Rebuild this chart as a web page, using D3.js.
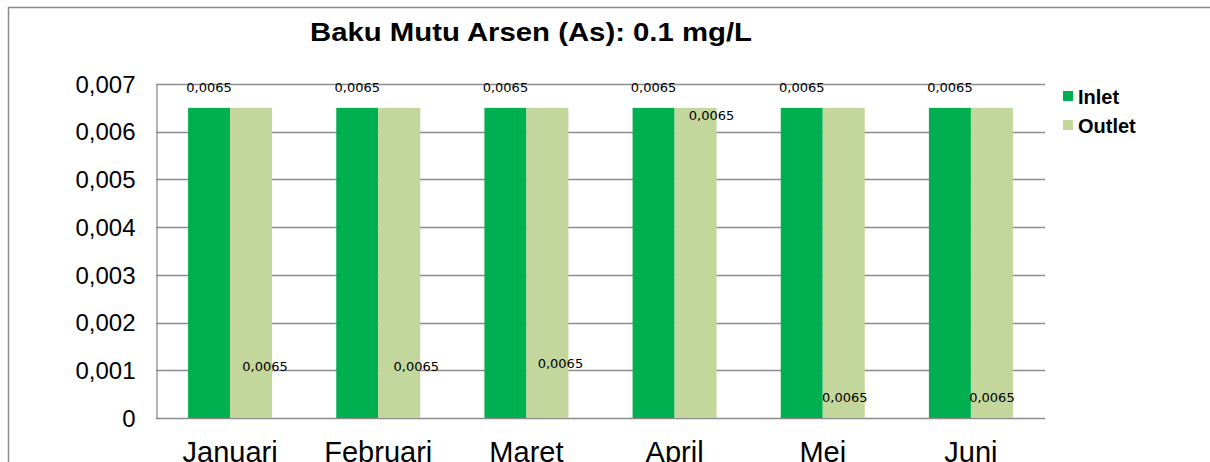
<!DOCTYPE html>
<html>
<head>
<meta charset="utf-8">
<script src="https://cdn.jsdelivr.net/npm/d3@7"></script>
<style>
  body { margin: 0; background: #fff; }
  svg { display: block; }
  .grid line { stroke: #8c8c8c; stroke-width: 1.3; }
  .val { font-family: 'DejaVu Sans', sans-serif; font-size: 13px; fill: #000; }
</style>
</head>
<body>
<svg width="1210" height="462"></svg>
<script>
'use strict';

var months = ['Januari', 'Februari', 'Maret', 'April', 'Mei', 'Juni'];
var inlet = [0.0065, 0.0065, 0.0065, 0.0065, 0.0065, 0.0065];
var outlet = [0.0065, 0.0065, 0.0065, 0.0065, 0.0065, 0.0065];
var seriesNames = ['Inlet', 'Outlet'];
var yTicks = [0, 0.001, 0.002, 0.003, 0.004, 0.005, 0.006, 0.007];
var title = 'Baku Mutu Arsen (As): 0.1 mg/L';

// where the outlet labels were dragged to in the original (value units / px shift)
var outletLabelAt = [0.00109, 0.00109, 0.00115, 0.00635, 0.00044, 0.00044];
var outletLabelShift = [14, 17, 13, 16, 1, 0];

var colors = { Inlet: '#00b050', Outlet: '#c3d69b' };

var margin = { left: 156, top: 84, right: 1045, bottom: 418 };

var svg = d3.select('svg');

// outer frame (left + top only visible)
svg.append('path')
    .attr('d', 'M8.5,462 L8.5,7.5 L1210,7.5')
    .attr('fill', 'none')
    .attr('stroke', '#8c8c8c')
    .attr('stroke-width', 1.5);

var x = d3.scaleBand()
    .domain(months)
    .range([margin.left, margin.right]);

var y = d3.scaleLinear()
    .domain([0, 0.007])
    .range([margin.bottom, margin.top]);

var fmt = function(v) { return String(v).replace('.', ','); };

// grid lines
svg.append('g')
    .attr('class', 'grid')
    .selectAll('line')
    .data(yTicks)
    .enter()
    .append('line')
    .attr('x1', margin.left)
    .attr('x2', margin.right)
    .attr('y1', function(d) { return Math.round(y(d)) + 0.5; })
    .attr('y2', function(d) { return Math.round(y(d)) + 0.5; });

// y axis
var axisY = d3.axisLeft(y)
    .tickValues(yTicks)
    .tickSize(0)
    .tickPadding(21)
    .tickFormat(function(d) { return d === 0 ? '0' : fmt(d3.format('.3f')(d)); });

var gy = svg.append('g')
    .attr('transform', 'translate(' + (margin.left + 0.5) + ',0.5)')
    .call(axisY);
gy.select('.domain').attr('stroke', '#8c8c8c').attr('stroke-width', 1.3);
gy.selectAll('text')
    .attr('font-family', 'Liberation Sans, Arial, sans-serif')
    .attr('font-size', 24)
    .attr('fill', '#000');

// bars
var barW = 42;
var groups = svg.append('g').selectAll('g')
    .data(months)
    .enter()
    .append('g')
    .attr('transform', function(d) { return 'translate(' + (x(d) + x.bandwidth() / 2) + ',0)'; });

groups.append('rect')
    .attr('x', -barW)
    .attr('width', barW)
    .attr('y', function(d, i) { return y(inlet[i]); })
    .attr('height', function(d, i) { return y(0) - y(inlet[i]); })
    .attr('fill', colors.Inlet);

groups.append('rect')
    .attr('x', 0)
    .attr('width', barW)
    .attr('y', function(d, i) { return y(outlet[i]); })
    .attr('height', function(d, i) { return y(0) - y(outlet[i]); })
    .attr('fill', colors.Outlet);

// value labels
groups.append('text')
    .attr('class', 'val')
    .attr('x', -barW / 2)
    .attr('y', y(0.0065) - 16)
    .attr('text-anchor', 'middle')
    .text(function(d, i) { return fmt(inlet[i]); });

groups.append('text')
    .attr('class', 'val')
    .attr('x', function(d, i) { return barW / 2 + outletLabelShift[i]; })
    .attr('y', function(d, i) { return y(outletLabelAt[i]) + 5; })
    .attr('text-anchor', 'middle')
    .text(function(d, i) { return fmt(outlet[i]); });

// x labels
svg.append('g').selectAll('text')
    .data(months)
    .enter()
    .append('text')
    .attr('x', function(d) { return x(d) + x.bandwidth() / 2; })
    .attr('y', 462)
    .attr('text-anchor', 'middle')
    .attr('font-family', 'Liberation Sans, Arial, sans-serif')
    .attr('font-size', 29)
    .text(function(d) { return d; });

// title
svg.append('text')
    .attr('x', 531)
    .attr('y', 41)
    .attr('text-anchor', 'middle')
    .attr('font-family', 'Liberation Sans, Arial, sans-serif')
    .attr('font-size', 25)
    .attr('font-weight', 'bold')
    .attr('textLength', 442)
    .attr('lengthAdjust', 'spacingAndGlyphs')
    .text(title);

// legend
var legend = svg.append('g').selectAll('g')
    .data(seriesNames)
    .enter()
    .append('g')
    .attr('transform', function(d, i) { return 'translate(1063,' + (91 + i * 29) + ')'; });

legend.append('rect')
    .attr('width', 10)
    .attr('height', 10)
    .attr('fill', function(d) { return colors[d]; });

legend.append('text')
    .attr('x', 15)
    .attr('y', 13)
    .attr('font-family', 'Liberation Sans, Arial, sans-serif')
    .attr('font-size', 20)
    .attr('font-weight', 'bold')
    .text(function(d) { return d; });
</script>
</body>
</html>
